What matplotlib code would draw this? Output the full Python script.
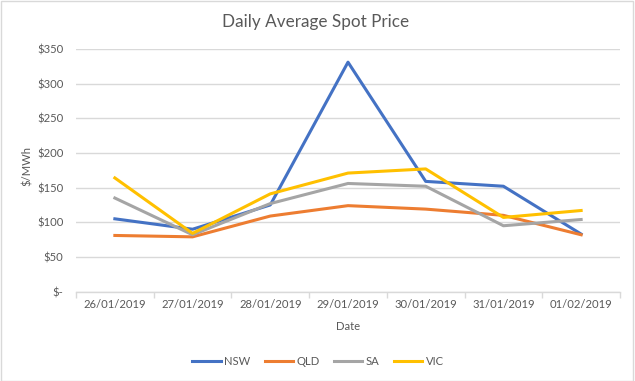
import matplotlib
matplotlib.use("Agg")
import matplotlib.pyplot as plt
from matplotlib.patches import Rectangle
import numpy as np

dates = ["26/01/2019", "27/01/2019", "28/01/2019", "29/01/2019",
         "30/01/2019", "31/01/2019", "01/02/2019"]
nsw = [105, 90, 125, 331, 159, 152, 83]
qld = [81, 79, 109, 124, 119, 110, 82]
sa = [135, 82, 127, 156, 152, 95, 104]
vic = [164, 84, 141, 171, 177, 107, 117]
series_names = ["NSW", "QLD", "SA", "VIC"]
colors = ["#4472C4", "#ED7D31", "#A5A5A5", "#FFC000"]
yticks = [0, 50, 100, 150, 200, 250, 300, 350]
ytick_labels = ["$-", "$50", "$100", "$150", "$200", "$250", "$300", "$350"]

plt.rcParams['font.family'] = ['Lato', 'DejaVu Sans']
txt = "#595959"
grid = "#D9D9D9"

fig = plt.figure(figsize=(6.35, 3.81), dpi=100)
ax = fig.add_axes([76/635, 1-291.6/381, (620-76)/635, (291.6-49)/381])

x = np.arange(len(dates))
for name, vals, c in zip(series_names, [nsw, qld, sa, vic], colors):
    ax.plot(x, vals, color=c, lw=2.2, label=name, solid_joinstyle='round')

ax.set_xlim(-0.5, len(dates) - 0.5)
ax.set_ylim(0, 350)
ax.set_yticks(yticks)
ax.set_yticklabels(ytick_labels)
ax.yaxis.grid(True, color=grid, lw=1)
ax.set_axisbelow(True)
ax.tick_params(axis='y', length=0, pad=9, labelsize=8.1, labelcolor=txt)

ax.set_xticks(np.arange(-0.5, len(dates)), minor=False)
ax.set_xticklabels([])
ax.set_xticks(x, minor=True)
ax.set_xticklabels(dates, minor=True)
ax.tick_params(axis='x', which='major', length=4, color=grid, width=1)
ax.tick_params(axis='x', which='minor', length=0, pad=5.5, labelsize=8.1, labelcolor=txt)

for s in ['top', 'right', 'left']:
    ax.spines[s].set_visible(False)
ax.spines['bottom'].set_color(grid)
ax.spines['bottom'].set_linewidth(1)

fig.text(316/635, 1-22/381, "Daily Average Spot Price", ha='center', va='center',
         fontsize=12.3, color=txt)
fig.text(27/635, 1-166/381, "$/MWh", rotation=90, ha='center', va='center',
         fontsize=8.1, color=txt)
fig.text(348/635, 1-327/381, "Date", ha='center', va='center', fontsize=8.1, color=txt)

leg = fig.legend(loc='center', bbox_to_anchor=(318/635, 1-361.3/381), ncol=4,
                 frameon=False, fontsize=8.1, handlelength=2.5, handletextpad=0.3,
                 columnspacing=1.3)
for t in leg.get_texts():
    t.set_color(txt)

fig.patches.append(Rectangle((0.5/635, 0.5/381), 632/635, 379.5/381, transform=fig.transFigure,
                             fill=False, edgecolor=grid, lw=1))

fig.savefig("out.png", dpi=100)
